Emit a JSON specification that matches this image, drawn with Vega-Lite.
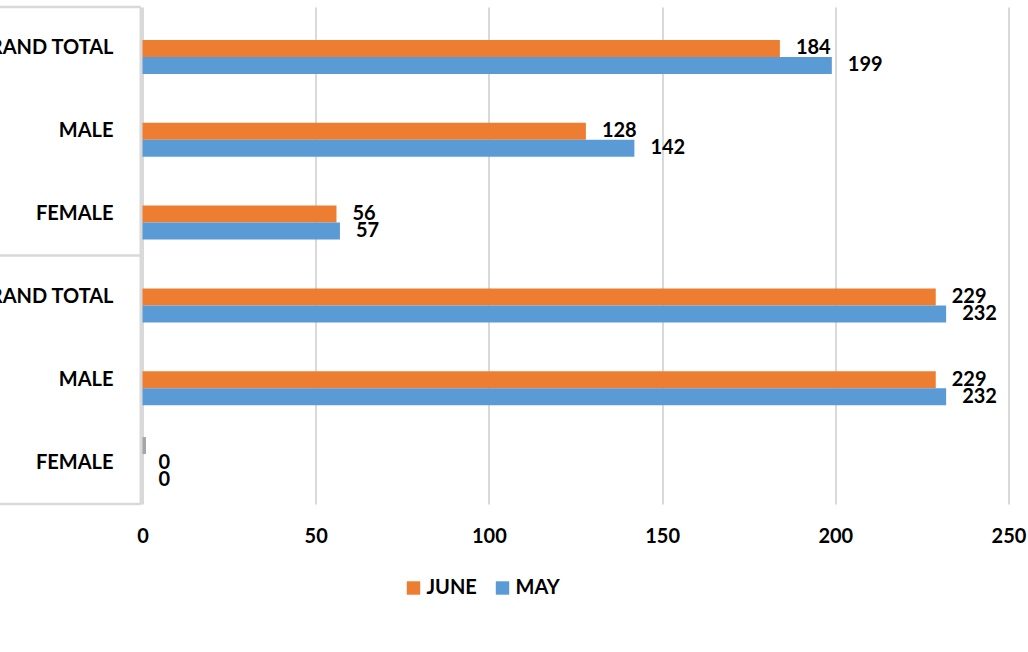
{
  "$schema": "https://vega.github.io/schema/vega-lite/v6.json",
  "width": 866,
  "height": 497,
  "autosize": {"type": "none"},
  "padding": {"left": 142.5, "top": 7, "right": 19.5, "bottom": 148},
  "background": "white",
  "config": {"view": {"stroke": null}, "font": "Lato"},
  "datasets": {
    "bars": [
      {"row": "A|GRAND TOTAL", "series": "JUNE", "value": 184},
      {"row": "A|GRAND TOTAL", "series": "MAY", "value": 199},
      {"row": "A|MALE", "series": "JUNE", "value": 128},
      {"row": "A|MALE", "series": "MAY", "value": 142},
      {"row": "A|FEMALE", "series": "JUNE", "value": 56},
      {"row": "A|FEMALE", "series": "MAY", "value": 57},
      {"row": "B|GRAND TOTAL", "series": "JUNE", "value": 229},
      {"row": "B|GRAND TOTAL", "series": "MAY", "value": 232},
      {"row": "B|MALE", "series": "JUNE", "value": 229},
      {"row": "B|MALE", "series": "MAY", "value": 232},
      {"row": "B|FEMALE", "series": "JUNE", "value": 0},
      {"row": "B|FEMALE", "series": "MAY", "value": 0},
      {"row": "B|FEMALE", "series": "OTHER", "value": 1}
    ]
  },
  "layer": [
    {
      "data": {"name": "bars"},
      "mark": {"type": "bar"},
      "encoding": {
        "y": {
          "field": "row", "type": "nominal",
          "scale": {"domain": ["A|GRAND TOTAL", "A|MALE", "A|FEMALE", "B|GRAND TOTAL", "B|MALE", "B|FEMALE"], "paddingInner": 0, "paddingOuter": 0},
          "axis": {
            "title": null, "ticks": false, "domain": true, "domainColor": "#d9d9d9", "domainWidth": 3, "offset": 2,
            "labelExpr": "split(datum.value, '|')[1]",
            "labelFont": "Lato", "labelFontSize": 20, "labelFontWeight": "bold", "labelColor": "#000000",
            "labelPadding": 27.5, "labelLimit": 400
          }
        },
        "yOffset": {
          "field": "series", "type": "nominal",
          "scale": {"domain": ["OTHER", "JUNE", "MAY"], "paddingInner": 0, "paddingOuter": 0.935}
        },
        "x": {
          "field": "value", "type": "quantitative",
          "scale": {"domain": [0, 250], "nice": false},
          "axis": {
            "title": null, "values": [0, 50, 100, 150, 200, 250], "ticks": false, "domain": false,
            "grid": true, "gridColor": "#d9d9d9", "gridWidth": 2, "labelFlush": false,
            "labelFont": "Lato", "labelFontSize": 20, "labelFontWeight": "bold", "labelColor": "#000000",
            "labelPadding": 22
          }
        },
        "color": {
          "field": "series", "type": "nominal",
          "scale": {"domain": ["JUNE", "MAY", "OTHER"], "range": ["#ED7D31", "#5B9BD5", "#A5A5A5"]},
          "legend": {
            "title": null, "values": ["JUNE", "MAY"], "orient": "none", "direction": "horizontal",
            "legendX": 261, "legendY": 571,
            "symbolType": "square", "symbolSize": 180, "symbolStrokeWidth": 0,
            "labelFont": "Lato", "labelFontSize": 20, "labelFontWeight": "bold", "labelColor": "#000000",
            "labelOffset": 3, "columnPadding": 15
          }
        }
      }
    },
    {
      "data": {"name": "bars"},
      "transform": [{"filter": "datum.series != 'OTHER'"}],
      "mark": {"type": "text", "align": "left", "baseline": "middle", "dx": 16, "font": "Lato", "fontSize": 20, "fontWeight": "bold", "color": "#000000"},
      "encoding": {
        "y": {"field": "row", "type": "nominal"},
        "yOffset": {"field": "series", "type": "nominal"},
        "x": {"field": "value", "type": "quantitative"},
        "text": {"field": "value", "type": "quantitative"}
      }
    },
    {
      "data": {"values": [{"row": "A|GRAND TOTAL"}, {"row": "B|GRAND TOTAL"}]},
      "mark": {"type": "rule", "color": "#d9d9d9", "strokeWidth": 2.5},
      "encoding": {
        "y": {"field": "row", "type": "nominal", "bandPosition": 0},
        "x": {"datum": -45},
        "x2": {"datum": -0.5}
      }
    },
    {
      "data": {"values": [{"row": "B|FEMALE"}]},
      "mark": {"type": "rule", "color": "#d9d9d9", "strokeWidth": 2.5},
      "encoding": {
        "y": {"field": "row", "type": "nominal", "bandPosition": 1},
        "x": {"datum": -45},
        "x2": {"datum": -0.5}
      }
    }
  ]
}
